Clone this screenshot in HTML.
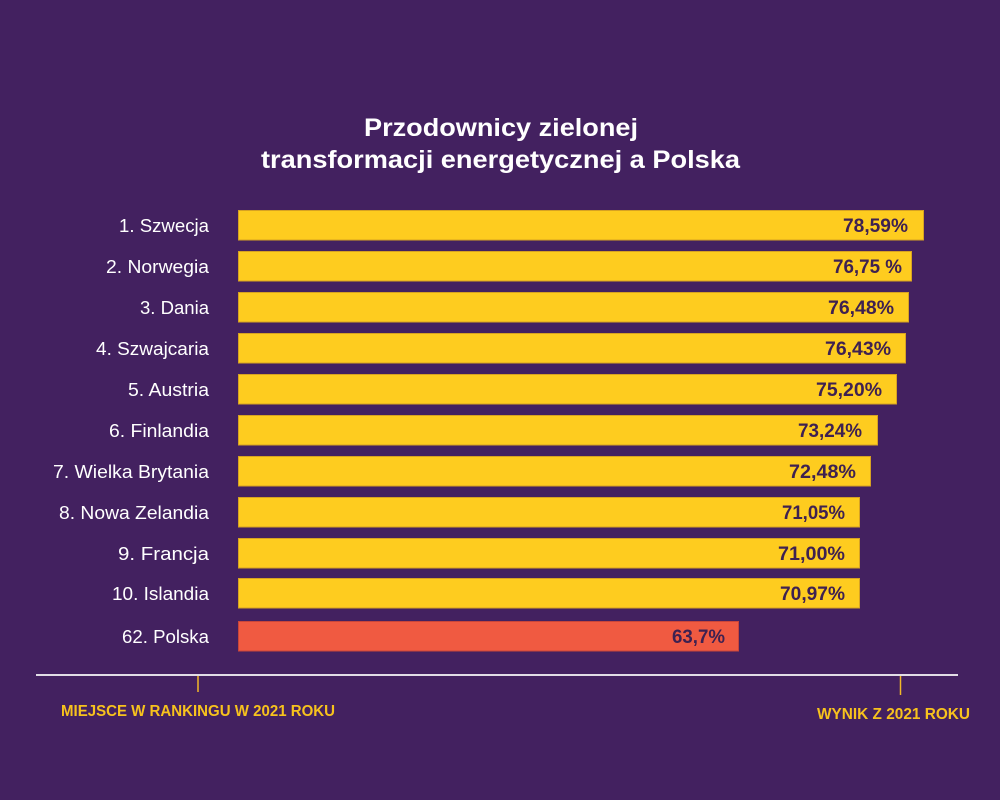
<!DOCTYPE html>
<html><head><meta charset="utf-8"><style>
html,body{margin:0;padding:0;background:#432160;}
svg{display:block;}
</style></head><body>
<svg width="1000" height="800" viewBox="0 0 1000 800" xmlns="http://www.w3.org/2000/svg">
<rect x="0" y="0" width="1000" height="800" fill="#432160"/>
<g font-family="Liberation Sans, sans-serif" font-weight="bold" fill="#ffffff" font-size="25" text-anchor="middle">
<text x="501" y="136" textLength="274" lengthAdjust="spacingAndGlyphs">Przodownicy zielonej</text>
<text x="500.5" y="168" textLength="479" lengthAdjust="spacingAndGlyphs">transformacji energetycznej a Polska</text>
</g>
<g stroke="#d7a222" stroke-width="1">
<rect x="238.5" y="210.5" width="685" height="29.5" fill="#fecc1f"/>
<rect x="238.5" y="251.5" width="673" height="29.5" fill="#fecc1f"/>
<rect x="238.5" y="292.5" width="670" height="29.5" fill="#fecc1f"/>
<rect x="238.5" y="333.5" width="667" height="29.5" fill="#fecc1f"/>
<rect x="238.5" y="374.5" width="658" height="29.5" fill="#fecc1f"/>
<rect x="238.5" y="415.5" width="639" height="29.5" fill="#fecc1f"/>
<rect x="238.5" y="456.5" width="632" height="29.5" fill="#fecc1f"/>
<rect x="238.5" y="497.5" width="621" height="29.5" fill="#fecc1f"/>
<rect x="238.5" y="538.5" width="621" height="29.5" fill="#fecc1f"/>
<rect x="238.5" y="578.5" width="621" height="29.5" fill="#fecc1f"/>
</g>
<rect x="238.5" y="621.5" width="500" height="29.5" fill="#f05a41" stroke="#c9463a" stroke-width="1"/>
<g font-family="Liberation Sans, sans-serif" fill="#ffffff" font-size="18" text-anchor="end">
<text x="209" y="232" textLength="90" lengthAdjust="spacingAndGlyphs">1. Szwecja</text>
<text x="209" y="273" textLength="103" lengthAdjust="spacingAndGlyphs">2. Norwegia</text>
<text x="209" y="314" textLength="69" lengthAdjust="spacingAndGlyphs">3. Dania</text>
<text x="209" y="355" textLength="113" lengthAdjust="spacingAndGlyphs">4. Szwajcaria</text>
<text x="209" y="396" textLength="81" lengthAdjust="spacingAndGlyphs">5. Austria</text>
<text x="209" y="437" textLength="100" lengthAdjust="spacingAndGlyphs">6. Finlandia</text>
<text x="209" y="478" textLength="156" lengthAdjust="spacingAndGlyphs">7. Wielka Brytania</text>
<text x="209" y="519" textLength="150" lengthAdjust="spacingAndGlyphs">8. Nowa Zelandia</text>
<text x="209" y="560" textLength="91" lengthAdjust="spacingAndGlyphs">9. Francja</text>
<text x="209" y="600" textLength="97" lengthAdjust="spacingAndGlyphs">10. Islandia</text>
<text x="209" y="643" textLength="87" lengthAdjust="spacingAndGlyphs">62. Polska</text>
</g>
<g font-family="Liberation Sans, sans-serif" font-weight="bold" fill="#3e2151" font-size="19" text-anchor="end">
<text x="908" y="232" textLength="65" lengthAdjust="spacingAndGlyphs">78,59%</text>
<text x="902" y="273" textLength="69" lengthAdjust="spacingAndGlyphs">76,75 %</text>
<text x="894" y="314" textLength="66" lengthAdjust="spacingAndGlyphs">76,48%</text>
<text x="891" y="355" textLength="66" lengthAdjust="spacingAndGlyphs">76,43%</text>
<text x="882" y="396" textLength="66" lengthAdjust="spacingAndGlyphs">75,20%</text>
<text x="862" y="437" textLength="64" lengthAdjust="spacingAndGlyphs">73,24%</text>
<text x="856" y="478" textLength="67" lengthAdjust="spacingAndGlyphs">72,48%</text>
<text x="845" y="519" textLength="63" lengthAdjust="spacingAndGlyphs">71,05%</text>
<text x="845" y="560" textLength="67" lengthAdjust="spacingAndGlyphs">71,00%</text>
<text x="845" y="600" textLength="65" lengthAdjust="spacingAndGlyphs">70,97%</text>
<text x="725" y="643" textLength="53" lengthAdjust="spacingAndGlyphs">63,7%</text>
</g>
<line x1="36" y1="675" x2="958" y2="675" stroke="#e2dde6" stroke-width="2"/>
<line x1="198" y1="676" x2="198" y2="692" stroke="#f2b928" stroke-width="1.5"/>
<line x1="900.5" y1="676" x2="900.5" y2="695" stroke="#f2b928" stroke-width="1.5"/>
<g font-family="Liberation Sans, sans-serif" font-weight="bold" fill="#f7c21d" font-size="16">
<text x="61" y="716" textLength="274" lengthAdjust="spacingAndGlyphs">MIEJSCE W RANKINGU W 2021 ROKU</text>
<text x="817" y="719" textLength="153" lengthAdjust="spacingAndGlyphs">WYNIK Z 2021 ROKU</text>
</g>
</svg>
</body></html>
